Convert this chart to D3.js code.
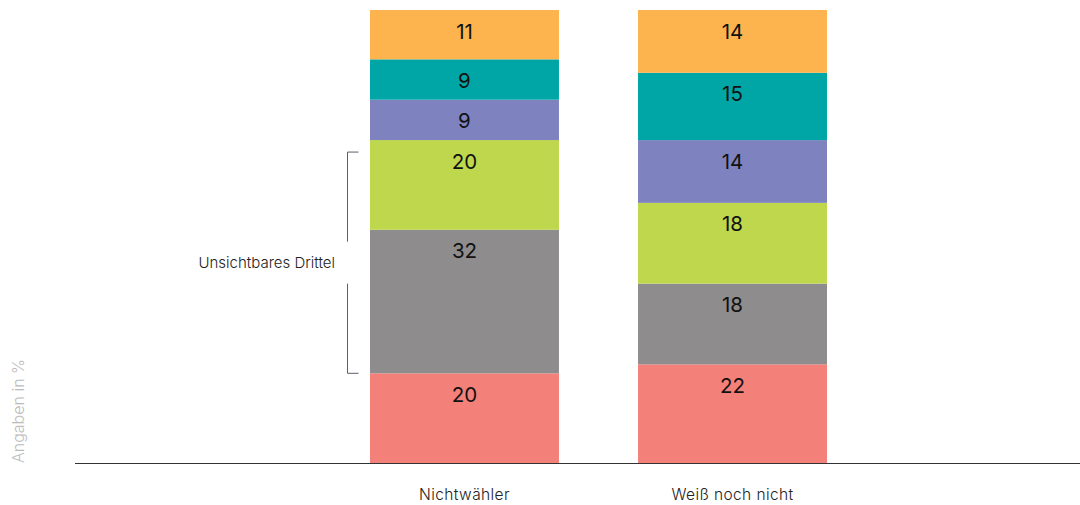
<!DOCTYPE html>
<html><head><meta charset="utf-8">
<script src="https://cdn.jsdelivr.net/npm/d3@7"></script>
<style>body{margin:0;background:#fff}svg{display:block;font-family:Inter,"Noto Sans",sans-serif}</style>
</head><body>
<svg id="c" width="1080" height="505"></svg>
<script>
const categories = ["Nichtwähler", "Weiß noch nicht"];
const seriesNames = ["s1","s2","s3","s4","s5","s6"]; // bottom to top
const seriesColors = ["#f4807a","#8e8c8c","#bed74c","#7e83c0","#00a6a6","#fdb44f"];
const valuesNichtwaehler = [20, 32, 20, 9, 9, 11];
const valuesWeissNicht = [22, 18, 18, 14, 15, 14];
const yAxisLabel = "Angaben in %";
const bracketLabel = "Unsichtbares Drittel";

const svg = d3.select("#c");
const baseY = 463, topY = 10;
const data = categories.map((c,i)=>{
  const vals = i===0 ? valuesNichtwaehler : valuesWeissNicht;
  const obj = {cat:c};
  seriesNames.forEach((s,j)=>obj[s]=vals[j]);
  return obj;
});
const stack = d3.stack().keys(seriesNames)(data);
const maxTotal = d3.max(data, d=>d3.sum(seriesNames, s=>d[s]));
const y = d3.scaleLinear().domain([0, maxTotal]).range([baseY, topY]);
const x = d3.scaleBand().domain(categories).range([370, 827]).paddingInner(0.295).paddingOuter(0);

const g = svg.append("g");
stack.forEach((layer,j)=>{
  layer.forEach((d,i)=>{
    const cat = categories[i];
    g.append("rect").attr("x", x(cat)).attr("width", x.bandwidth())
      .attr("y", y(d[1])).attr("height", y(d[0]) - y(d[1]))
      .attr("fill", seriesColors[j]);
    g.append("text").attr("x", x(cat) + x.bandwidth()/2).attr("y", y(d[1]) + 28.5)
      .attr("text-anchor","middle").attr("font-size", 20.5).attr("font-weight",400).attr("fill","#111")
      .text(d[1]-d[0]);
  });
});

// baseline axis
svg.append("line").attr("x1",75).attr("x2",1080).attr("y1",baseY+0.5).attr("y2",baseY+0.5)
  .attr("stroke","#333").attr("stroke-width",1);
categories.forEach(c=>{
  svg.append("text").attr("x", x(c)+x.bandwidth()/2).attr("y", 500)
    .attr("text-anchor","middle").attr("font-size",15.5).attr("letter-spacing",0.4).attr("font-weight",300).attr("fill","#222").text(c);
});

// y label
svg.append("text").attr("transform","translate(24,463) rotate(-90)")
  .attr("font-size",16).attr("font-weight",300).attr("fill","#bbb").text(yAxisLabel);

// bracket spanning series 1+2 of first bar (base to green top)
const st = stack[0][0], en = stack[2][0];
const by1 = y(en[1]) + 12, by2 = y(st[1]);
const bx = 347.5;
const bc = "#5a5f70";
const midY = (by1+by2)/2;
svg.append("path").attr("d", `M${bx+11},${by1}H${bx}V${midY-21}`).attr("fill","none").attr("stroke",bc);
svg.append("path").attr("d", `M${bx+11},${by2}H${bx}V${midY+21}`).attr("fill","none").attr("stroke",bc);
svg.append("text").attr("x", 335).attr("y", midY+5).attr("text-anchor","end")
  .attr("font-size",15).attr("font-weight",300).attr("fill","#222").text(bracketLabel);
</script>
</body></html>
